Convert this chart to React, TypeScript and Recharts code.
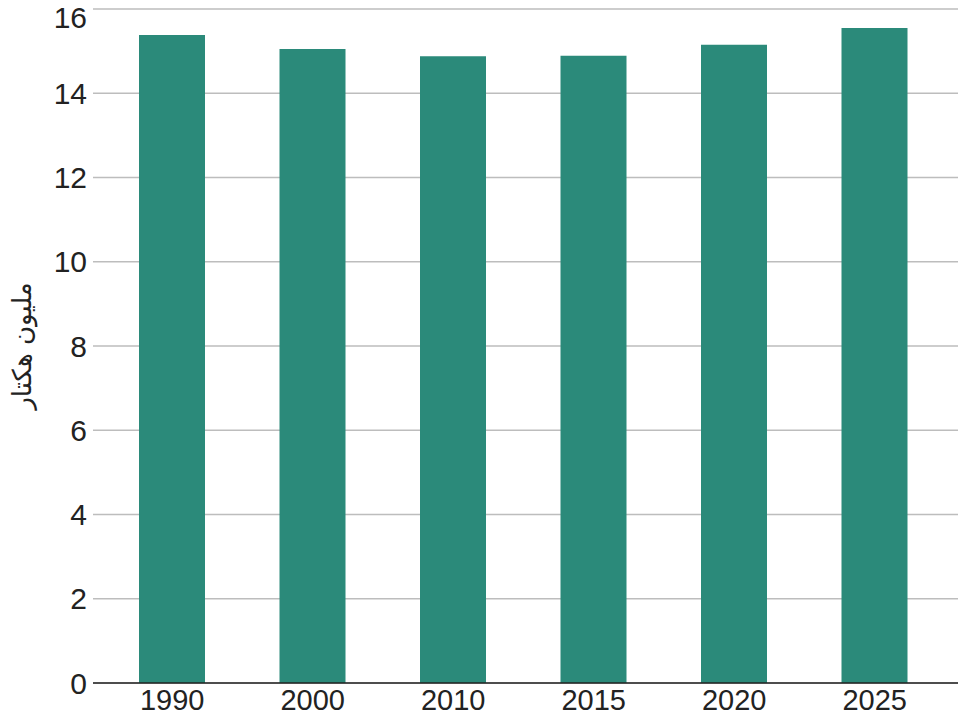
import React from "react";
import { BarChart, Bar, XAxis, YAxis, CartesianGrid, Label } from "recharts";

const years = ["1990", "2000", "2010", "2015", "2020", "2025"];
const area = [15.38, 15.05, 14.88, 14.89, 15.15, 15.55];
const yTicks = [0, 2, 4, 6, 8, 10, 12, 14, 16];

const data = years.map((year, i) => ({ year, value: area[i] }));

const tickStyle = { fill: "#222", fontSize: 30, fontFamily: "Liberation Sans, Arial, sans-serif" };
const xTickStyle = { ...tickStyle, fontSize: 29 };

function YTitle(props: any) {
  const vb = props.viewBox || { x: 0, y: 0, width: 0, height: 0 };
  const cx = vb.x + 22;
  const cy = vb.y + vb.height / 2;
  return (
    <text
      transform={`translate(${cx},${cy}) rotate(-90)`}
      textAnchor="middle"
      dominantBaseline="central"
      fill="#222"
      fontSize={26}
      fontFamily="DejaVu Sans, Noto Sans, sans-serif"
    >
      مليون هكتار
    </text>
  );
}

export default function App() {
  return (
    <div style={{ position: "absolute", left: 0, top: 0, background: "#fff" }}>
      <BarChart width={959} height={719} data={data} margin={{ top: 9, right: 1, bottom: 0, left: 0 }}>
        <CartesianGrid vertical={false} stroke="#bdbdbd" strokeWidth={1.5} />
        <XAxis
          dataKey="year"
          axisLine={{ stroke: "#222", strokeWidth: 1.5 }}
          tickLine={false}
          tickSize={0}
          tickMargin={6}
          height={36}
          padding={{ left: 9, right: 13 }}
          tick={xTickStyle}
        />
        <YAxis
          width={93}
          domain={[0, 16]}
          ticks={yTicks}
          axisLine={false}
          tickLine={false}
          tickSize={0}
          tickMargin={6}
          tick={tickStyle}
        >
          <Label content={<YTitle />} />
        </YAxis>
        <Bar dataKey="value" fill="#2b8a7a" barSize={66} isAnimationActive={false} />
      </BarChart>
    </div>
  );
}
